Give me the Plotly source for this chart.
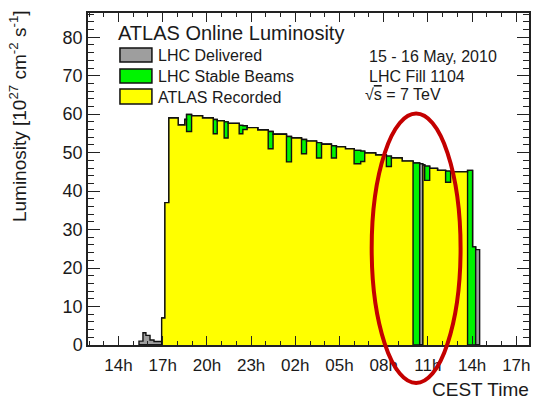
import plotly.graph_objects as go

# ---- data (hours since 15 May 2010 00:00 CEST) ----
edges = [15.39, 15.66, 15.86, 16.14, 16.41, 16.93, 17.15, 17.42, 18.05, 18.51,
         18.62, 18.96, 19.70, 20.43, 20.70, 21.17, 21.44, 22.19, 22.44, 22.73,
         23.45, 24.16, 24.49, 25.40, 25.74, 26.42, 26.76, 27.44, 27.78, 28.45,
         28.79, 29.40, 29.99, 30.44, 30.71, 31.45, 32.18, 32.52, 33.25, 33.99,
         34.44, 34.66, 34.78, 35.12, 35.65, 36.20, 36.54, 37.69, 38.03, 38.24,
         38.51]

lhc_delivered = [1.0, 3.2, 2.5, 1.3, 0.9, 7.0, 37.0, 59.0, 57.2, 58.6,
                 59.9, 59.6, 59.0, 58.6, 58.3, 58.0, 57.6, 57.1, 57.0, 56.5,
                 55.9, 55.5, 54.8, 54.2, 53.8, 53.4, 53.0, 52.6, 52.2, 51.8,
                 51.5, 51.0, 50.6, 50.4, 49.9, 49.4, 49.1, 48.6, 47.8, 47.3,
                 47.1, 46.8, 46.5, 45.9, 45.4, 45.2, 45.0, 45.4, 25.5, 24.8]

lhc_stable = [0.0, 0.0, 0.0, 0.0, 0.0, 0.0, 0.0, 59.0, 57.2, 58.6,
              59.9, 59.6, 59.0, 58.6, 58.3, 58.0, 57.6, 57.1, 57.0, 56.5,
              55.9, 55.5, 54.8, 54.2, 53.8, 53.4, 53.0, 52.6, 52.2, 51.8,
              51.5, 51.0, 50.6, 50.4, 49.9, 49.4, 49.1, 48.6, 47.8, 47.3,
              0.0, 46.8, 46.5, 45.9, 45.4, 45.2, 45.0, 45.4, 25.5, 0.0]

atlas_recorded = [0.0, 0.0, 0.0, 0.0, 0.0, 7.0, 37.0, 59.0, 57.2, 58.6,
                  55.5, 59.6, 59.0, 54.9, 58.3, 53.8, 57.6, 54.9, 56.0, 56.5,
                  55.9, 51.0, 54.8, 47.6, 53.8, 49.7, 53.0, 48.6, 52.2, 48.6,
                  51.5, 51.0, 47.1, 47.7, 49.9, 49.4, 46.4, 48.6, 47.8, 0.0,
                  0.0, 46.8, 42.8, 45.9, 45.4, 42.3, 45.0, 0.0, 0.0, 0.0]

tick_hours = [14, 17, 20, 23, 26, 29, 32, 35, 38, 41]
tick_labels = ["14h", "17h", "20h", "23h", "02h", "05h", "08h", "11h", "14h", "17h"]

series = [
    ("LHC Delivered", lhc_delivered, "#9e9e9e"),
    ("LHC Stable Beams", lhc_stable, "#00f400"),
    ("ATLAS Recorded", atlas_recorded, "#ffff00"),
]

FONT = "Liberation Sans, Arial, Helvetica, sans-serif"
TXT = "#1a1a1a"

fig = go.Figure()
for name, vals, col in series:
    xs = [edges[0]] + list(edges)
    ys = [0.0] + list(vals) + [0.0]
    fig.add_trace(go.Scatter(
        x=xs, y=ys, mode="lines", name=name,
        line=dict(shape="hv", color="#111111", width=1.4),
        fill="tozeroy", fillcolor=col, showlegend=False, hoverinfo="skip"))

# plot-area pixel geometry -> paper coordinates
W, H = 537, 401
L, R, T, B = 88, 529.5, 13, 345
def px(x):
    return (x - L) / (R - L)
def py(y):
    return (B - y) / (B - T)

shapes = []
annotations = []

# legend boxes
for (name, vals, col), (y0, y1), yc in zip(series, [(48, 62), (69, 83), (89, 104)], [55, 76, 97]):
    shapes.append(dict(type="rect", xref="paper", yref="paper",
                       x0=px(120), x1=px(152), y0=py(y1), y1=py(y0),
                       fillcolor=col, line=dict(color="#111111", width=1.5)))
    annotations.append(dict(text=name, xref="paper", yref="paper", x=px(156), y=py(yc),
                            xanchor="left", yanchor="middle", showarrow=False,
                            font=dict(family=FONT, size=16, color=TXT)))

annotations.append(dict(text="ATLAS Online Luminosity", xref="paper", yref="paper",
                        x=px(116), y=py(33), xanchor="left", yanchor="middle", showarrow=False,
                        font=dict(family=FONT, size=20, color=TXT)))
for txt, yc, x0 in [("15 - 16 May, 2010", 57, 367), ("LHC Fill 1104", 77, 367),
                    ("√<span style='text-decoration:overline'>s</span> = 7 TeV", 94, 363)]:
    annotations.append(dict(text=txt, xref="paper", yref="paper", x=px(x0), y=py(yc),
                            xanchor="left", yanchor="middle", showarrow=False,
                            font=dict(family=FONT, size=16, color=TXT)))

annotations.append(dict(text="CEST Time", xref="paper", yref="paper", x=px(531), y=py(401),
                        xanchor="right", yanchor="bottom", showarrow=False, borderpad=0,
                        font=dict(family=FONT, size=19, color=TXT)))
annotations.append(dict(text="Luminosity [10<sup>27</sup> cm<sup>-2</sup> s<sup>-1</sup>]",
                        xref="paper", yref="paper", x=px(18), y=py(8),
                        xanchor="center", yanchor="top", textangle=-90, showarrow=False,
                        font=dict(family=FONT, size=19, color=TXT)))

# red ellipse highlight
cx, cy, rx, ry = 416.5, 248.3, 44.5, 134.7
shapes.append(dict(type="circle", xref="paper", yref="paper", layer="above",
                   x0=px(cx - rx), x1=px(cx + rx), y0=py(cy + ry), y1=py(cy - ry),
                   line=dict(color="#c40000", width=4)))

fig.update_layout(
    width=W, height=H,
    margin=dict(l=L, r=W - R, t=T, b=H - B),
    paper_bgcolor="white", plot_bgcolor="white",
    shapes=shapes, annotations=annotations,
    showlegend=False,
    font=dict(family=FONT, color=TXT),
)
fig.update_xaxes(
    range=[11.93, 41.86], tickmode="array", tickvals=tick_hours, ticktext=tick_labels,
    ticks="inside", ticklen=9, tickwidth=1.2, tickcolor="#222",
    minor=dict(ticks="inside", ticklen=4, tick0=14, dtick=1, tickcolor="#222", tickwidth=1),
    showline=True, linecolor="#222", linewidth=1.5, mirror="allticks",
    showgrid=False, zeroline=False,
    tickfont=dict(family=FONT, size=17, color=TXT), ticklabelstandoff=4,
)
fig.update_yaxes(
    range=[0, 86.3], tick0=0, dtick=10,
    ticks="inside", ticklen=12, tickwidth=1.2, tickcolor="#222",
    minor=dict(ticks="inside", ticklen=6, dtick=2, tickcolor="#222", tickwidth=1),
    showline=True, linecolor="#222", linewidth=1.5, mirror="allticks",
    showgrid=False, zeroline=False,
    tickfont=dict(family=FONT, size=18, color=TXT),
)

fig.write_html("out.html")
